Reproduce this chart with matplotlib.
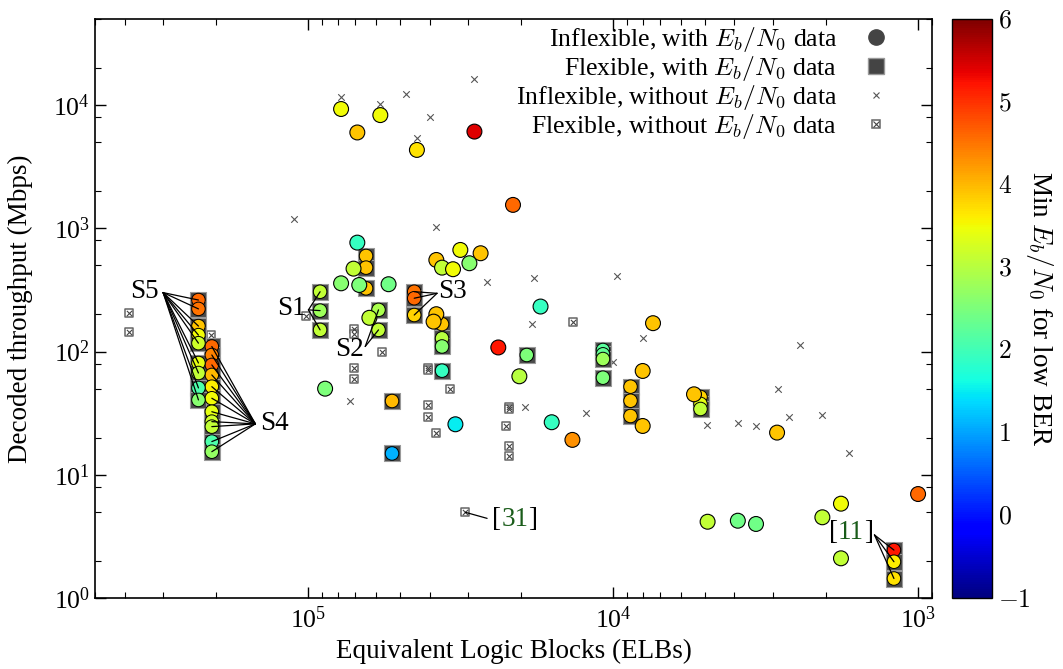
import matplotlib
matplotlib.use("Agg")
import matplotlib.pyplot as plt
from matplotlib.lines import Line2D
from matplotlib.legend_handler import HandlerTuple
from matplotlib.offsetbox import TextArea, HPacker, AnnotationBbox
import matplotlib.ticker as mticker
import matplotlib.colors as mcolors

plt.rcParams["font.family"] = "serif"
plt.rcParams["font.serif"] = ["Liberation Serif", "DejaVu Serif"]
plt.rcParams["mathtext.fontset"] = "cm"

# ---------- data ----------
# inflexible decoders, with Eb/N0 data (circles)
infl_elb = [7.8e4, 6.9e4, 5.8e4, 4.4e4, 2.85e4, 2.13e4, 6.9e4, 7.1e4, 7.8e4, 6.8e4,
            5.45e4, 6.3e4, 8.8e4, 3.8e4, 3.17e4, 2.72e4, 3.64e4, 3.35e4, 2.96e4, 3.8e4,
            3.88e4, 3.29e4, 2.38e4, 1.73e4, 2.03e4, 1.59e4, 1.36e4, 7.4e3, 8.0e3, 8.0e3,
            5.43e3, 2.9e3, 4.9e3, 3.9e3, 3.4e3, 2.06e3, 1.79e3, 1.79e3, 1.0e3]
infl_tp = [9300, 6000, 8300, 4330, 6100, 1550, 766, 471, 358, 347,
           352, 188, 50, 554, 668, 628, 480, 466, 521, 201,
           175, 25.7, 108, 232, 63, 26.7, 19.2, 170, 69.6, 24.9,
           45, 22, 4.16, 4.24, 3.99, 4.52, 5.83, 2.1, 6.98]
infl_eb = [3.5, 3.9, 3.5, 3.7, 5.4, 4.6, 1.9, 3.1, 2.6, 2.5,
           2.4, 3.1, 2.5, 3.9, 3.5, 3.9, 3.1, 3.5, 2.6, 3.9,
           3.9, 1.5, 5.2, 1.9, 3.0, 1.9, 4.3, 3.9, 3.9, 3.9,
           3.9, 3.9, 3.1, 2.4, 2.4, 3.1, 3.5, 3.1, 4.6]

# flexible decoders, with Eb/N0 data (squares), ungrouped ones
flex_elb = [6.46e4, 6.46e4, 6.46e4, 5.31e4, 5.31e4, 3.64e4, 3.64e4, 3.64e4, 3.64e4,
            1.92e4, 1.08e4, 1.08e4, 1.08e4, 1.08e4, 8.77e3, 8.77e3, 8.77e3,
            5.17e3, 5.17e3, 5.17e3]
flex_tp = [597, 480, 326, 39.7, 14.9, 167, 128, 110, 70,
           93.8, 103, 95, 87, 61.4, 51.9, 39.9, 30,
           42.8, 37.6, 34.2]
flex_eb = [3.9, 3.9, 3.9, 4.0, 1.1, 3.9, 3.0, 2.6, 1.9,
           2.5, 2.2, 2.3, 2.8, 2.5, 3.9, 3.9, 3.9,
           3.8, 3.4, 3.1]

# labelled flexible families
s1_elb, s1_tp, s1_eb = [9.14e4] * 3, [306, 215, 150], [3.1, 2.8, 3.1]
s2_elb, s2_tp, s2_eb = [5.88e4] * 2, [218, 150], [2.9, 3.1]
s3_elb, s3_tp, s3_eb = [4.49e4] * 3, [306, 271, 198], [4.5, 4.6, 3.8]
s4_elb = [2.07e5] * 11
s4_tp = [110, 93.8, 77.9, 64.6, 51.9, 41.8, 32.5, 27.0, 24.6, 18.6, 15.4]
s4_eb = [4.6, 4.4, 4.6, 4.0, 3.6, 3.5, 3.4, 3.2, 3.1, 2.1, 2.7]
s5_elb = [2.29e5] * 9
s5_tp = [262, 222, 161, 136, 117, 80.8, 67, 50.7, 40.5]
s5_eb = [4.6, 4.5, 3.9, 3.5, 3.2, 3.4, 3.1, 2.1, 2.6]
r11_elb, r11_tp, r11_eb = [1.2e3] * 3, [2.45, 1.97, 1.44], [5.2, 3.6, 3.7]

# inflexible, without Eb/N0 data (x)
nx_elb = [1.11e5, 3.8e4, 2.59e4, 1.82e4, 9.7e3, 7.8e4, 5.8e4, 4.77e4, 4.0e4, 4.4e4,
          2.85e4, 7.28e4, 1.84e4, 7.98e3, 9.98e3, 1.94e4, 1.23e4, 4.91e3, 3.89e3,
          3.39e3, 2.88e3, 2.65e3, 2.06e3, 1.68e3, 2.43e3]
nx_tp = [1190, 1020, 369, 394, 411, 11700, 10200, 12300, 7980, 5420,
         16200, 39.7, 168, 128, 81.9, 35.7, 31.6, 25.4, 26.5,
         25.0, 49.4, 29.3, 30.4, 14.9, 114]

# flexible, without Eb/N0 data (boxed x)
nb_elb = [3.87e5, 3.87e5, 2.09e5, 1.02e5, 7.07e4, 7.07e4, 5.73e4, 7.07e4, 7.07e4,
          1.35e4, 4.06e4, 4.06e4, 3.43e4, 4.06e4, 4.06e4, 3.8e4, 2.2e4, 2.2e4,
          2.24e4, 2.2e4, 2.2e4]
nb_tp = [205, 143.5, 136, 196, 152, 139, 100, 73, 60,
         175, 73, 71, 49.4, 36.9, 29.3, 21.7, 35.7, 34.5,
         24.9, 17.1, 14.2]
r31_elb, r31_tp = [3.05e4], [4.96]

FS = 19.5

# ---------- plot ----------
fig = plt.figure(figsize=(10.63, 6.69), dpi=100)
ax = fig.add_axes([0.0894, 0.1061, 0.7874, 0.8655])
cax = fig.add_axes([0.8956, 0.1061, 0.0376, 0.8655])

cmap = plt.get_cmap("jet")
norm = mcolors.Normalize(vmin=-1, vmax=6)

# flexible without data: square with x inside
all_nb_elb = nb_elb + r31_elb
all_nb_tp = nb_tp + r31_tp
ax.scatter(all_nb_elb, all_nb_tp, marker="s", s=30, facecolor="white",
           edgecolor="#666666", linewidth=1.1, zorder=2)
ax.scatter(all_nb_elb, all_nb_tp, marker="x", s=14, color="#444444",
           linewidth=0.8, zorder=2.1)

ax.scatter(nx_elb, nx_tp, marker="x", s=22, color="#555555", linewidth=0.8, zorder=2)

# flexible with data: dark square + coloured disc
fx = flex_elb + s1_elb + s2_elb + s3_elb + s4_elb + s5_elb + r11_elb
fy = flex_tp + s1_tp + s2_tp + s3_tp + s4_tp + s5_tp + r11_tp
fc = flex_eb + s1_eb + s2_eb + s3_eb + s4_eb + s5_eb + r11_eb
ax.scatter(fx, fy, marker="s", s=125, facecolor="#4a4a4a", edgecolor="#9a9a9a",
           linewidth=0.8, zorder=3)
ax.scatter(fx, fy, marker="o", s=95, c=fc, cmap=cmap, norm=norm,
           edgecolor="black", linewidth=0.7, zorder=3.1)

sc = ax.scatter(infl_elb, infl_tp, marker="o", s=115, c=infl_eb, cmap=cmap, norm=norm,
                edgecolor="black", linewidth=0.8, zorder=4)

ax.set_xscale("log")
ax.set_yscale("log")
ax.set_xlim(5e5, 900)
ax.set_ylim(1, 5e4)

ax.xaxis.set_minor_locator(mticker.LogLocator(base=10, subs=range(2, 10), numticks=20))
ax.yaxis.set_minor_locator(mticker.LogLocator(base=10, subs=(2, 5, 8), numticks=20))
ax.xaxis.set_minor_formatter(mticker.NullFormatter())
ax.yaxis.set_minor_formatter(mticker.NullFormatter())
ax.tick_params(which="both", direction="in", top=True, right=True, labelsize=18.5)
ax.tick_params(which="major", length=8, width=1.0)
ax.tick_params(which="minor", length=4.5, width=0.8)
ax.tick_params(axis="x", pad=6)
for sp in ax.spines.values():
    sp.set_linewidth(1.2)

ax.set_xlabel("Equivalent Logic Blocks (ELBs)", fontsize=FS, labelpad=4)
ax.set_ylabel("Decoded throughput (Mbps)", fontsize=FS)
ax.yaxis.set_label_coords(-0.074, 0.5)

# annotation lines
def fan(lx, ly, xs, ys):
    for x, y in zip(xs, ys):
        ax.annotate("", xy=(x, y), xytext=(lx, ly),
                    arrowprops=dict(arrowstyle="-", lw=0.9, color="black",
                                    shrinkA=0, shrinkB=0), zorder=6)

fan(2.99e5, 301, s5_elb, s5_tp)
ax.text(3.08e5, 305, "S5", fontsize=FS, ha="right", va="center")
fan(1.49e5, 25.9, s4_elb, s4_tp)
ax.text(1.44e5, 25.9, "S4", fontsize=FS, ha="left", va="center")
fan(9.98e4, 218, s1_elb, s1_tp)
ax.text(1.02e5, 222, "S1", fontsize=FS, ha="right", va="center")
fan(6.5e4, 110, s2_elb, s2_tp)
ax.text(6.55e4, 103, "S2", fontsize=FS, ha="right", va="center")
fan(3.78e4, 297, s3_elb, s3_tp)
ax.text(3.74e4, 305, "S3", fontsize=FS, ha="left", va="center")
fan(1.39e3, 3.25, r11_elb, r11_tp)
fan(2.59e4, 4.43, r31_elb, r31_tp)

def ref_label(x, y, num):
    box = HPacker(children=[TextArea("[", textprops=dict(fontsize=FS, color="black")),
                            TextArea(num, textprops=dict(fontsize=FS, color="#1a5c1a")),
                            TextArea("]", textprops=dict(fontsize=FS, color="black"))],
                  pad=0, sep=0)
    ab = AnnotationBbox(box, (x, y), frameon=False, box_alignment=(0.5, 0.5), zorder=7)
    ax.add_artist(ab)

ref_label(1.66e3, 3.4, "11")
ref_label(2.1e4, 4.3, "31")

# legend
h1 = Line2D([], [], marker="o", ls="none", color="#444444", markersize=11)
h2 = Line2D([], [], marker="s", ls="none", markerfacecolor="#444444",
            markeredgecolor="#999999", markersize=11)
h3 = Line2D([], [], marker="x", ls="none", color="#555555", markersize=5, mew=0.8)
h4a = Line2D([], [], marker="s", ls="none", markerfacecolor="white",
             markeredgecolor="#666666", markersize=6, mew=1.1)
h4b = Line2D([], [], marker="x", ls="none", color="#444444", markersize=4, mew=0.8)
ax.legend([h1, h2, h3, (h4a, h4b)],
          ["Inflexible, with $E_b/N_0$ data", "Flexible, with $E_b/N_0$ data",
           "Inflexible, without $E_b/N_0$ data", "Flexible, without $E_b/N_0$ data"],
          handler_map={tuple: HandlerTuple(ndivide=1, pad=0)},
          loc="upper right", frameon=False, markerfirst=False, fontsize=18.5,
          labelspacing=0.0, handletextpad=0.5, borderaxespad=0.0, borderpad=0.15,
          handlelength=2.0, bbox_to_anchor=(0.968, 0.996))

# colorbar
cb = fig.colorbar(sc, cax=cax)
cb.set_ticks(range(-1, 7))
cb.set_ticklabels([f"${v}$" for v in range(-1, 7)])
cb.ax.tick_params(length=0, labelsize=18.5, pad=4)
cb.outline.set_linewidth(1.0)
cb.set_label("Min $E_b/N_0$ for low BER", fontsize=FS, rotation=270, labelpad=18)

fig.savefig("out.png", dpi=100)
